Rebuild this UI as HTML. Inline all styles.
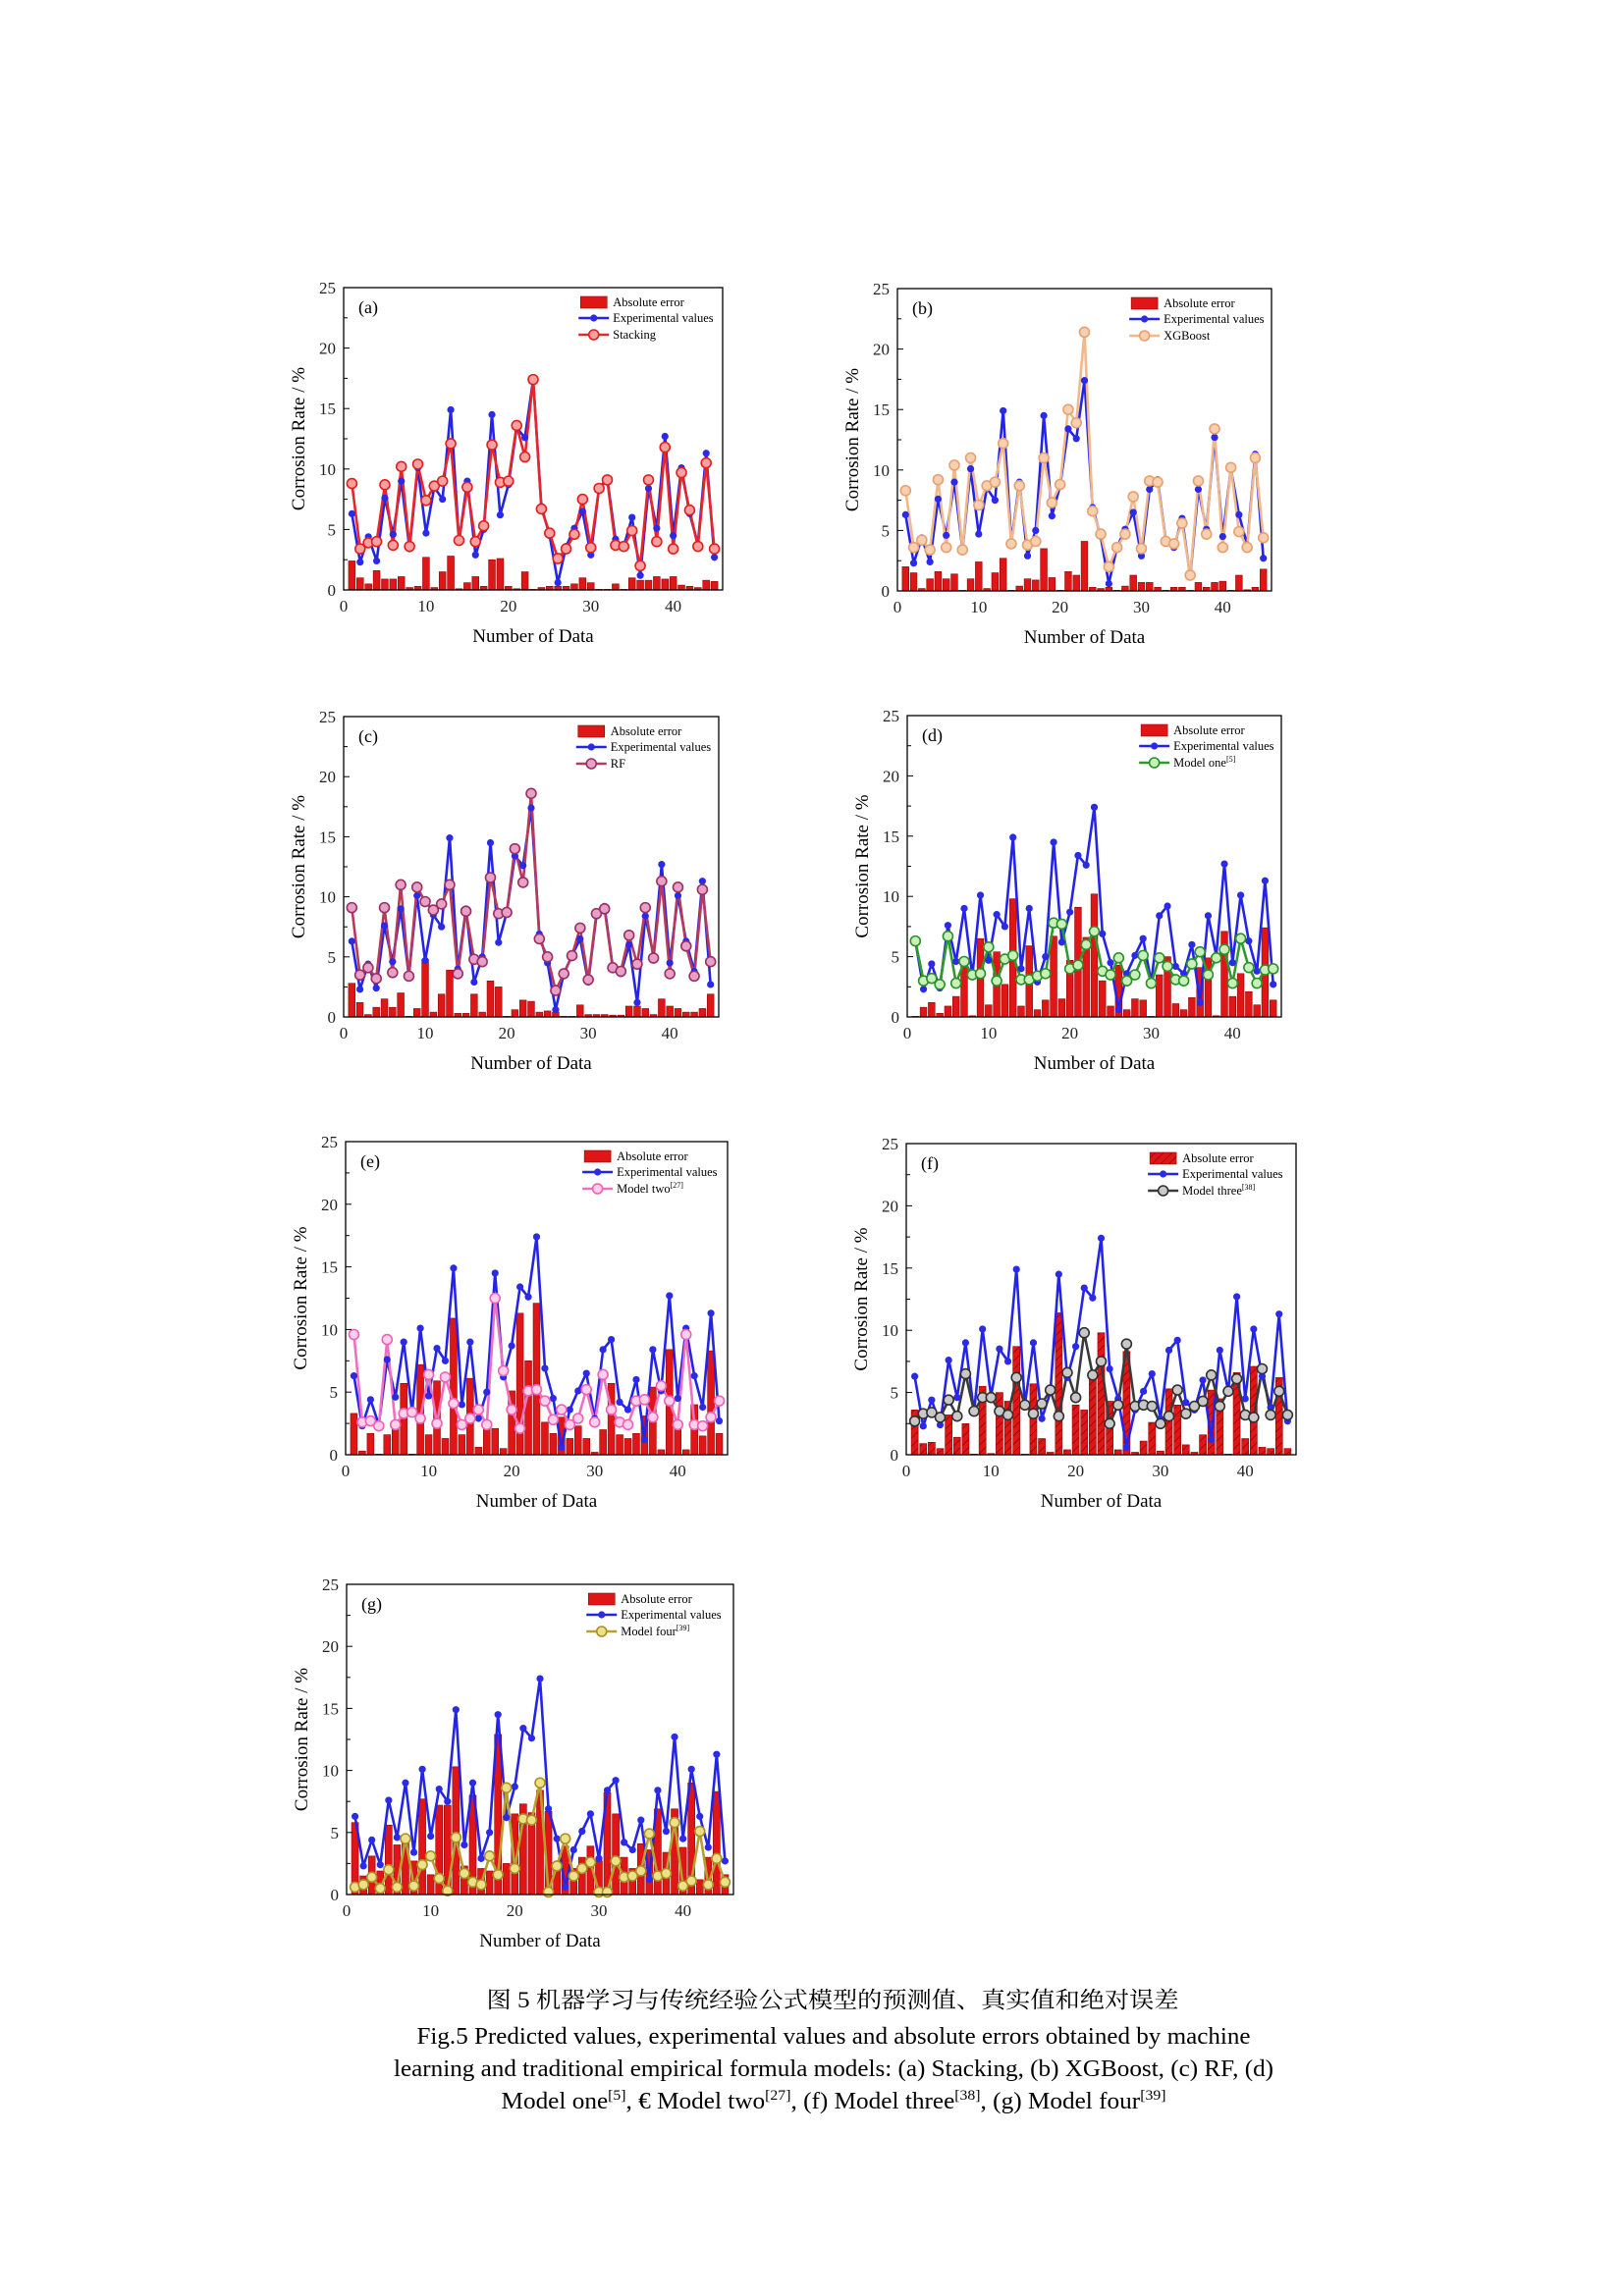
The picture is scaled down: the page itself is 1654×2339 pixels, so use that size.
<!DOCTYPE html>
<html><head><meta charset="utf-8">
<style>
html,body{margin:0;padding:0;background:#fff;}
svg{display:block;}
text{font-family:"Liberation Serif","Noto Serif CJK SC",serif;}
</style></head>
<body>
<svg id="fig" xmlns="http://www.w3.org/2000/svg" width="1654" height="2339" viewBox="0 0 1654 2339">
<rect x="0" y="0" width="1654" height="2339" fill="#fff"/>
<defs>
<pattern id="hatch" patternUnits="userSpaceOnUse" width="6" height="6" patternTransform="rotate(45)">
<rect width="6" height="6" fill="#e01515"/>
<line x1="0" y1="0" x2="0" y2="6" stroke="#7a0000" stroke-width="1.2"/>
</pattern>
</defs>
<g id="panels"></g>
<g>
<text x="848" y="2045" text-anchor="middle" font-size="23" textLength="705" lengthAdjust="spacingAndGlyphs" font-family="Liberation Serif, Noto Serif CJK SC, serif">图 5  机器学习与传统经验公式模型的预测值、真实值和绝对误差</text>
<text x="849" y="2082" text-anchor="middle" font-size="24" textLength="849" lengthAdjust="spacingAndGlyphs">Fig.5 Predicted values, experimental values and absolute errors obtained by machine</text>
<text x="849" y="2115" text-anchor="middle" font-size="24" textLength="896" lengthAdjust="spacingAndGlyphs">learning and traditional empirical formula models: (a) Stacking, (b) XGBoost, (c) RF, (d)</text>
<text x="849" y="2148" text-anchor="middle" font-size="24" textLength="677" lengthAdjust="spacingAndGlyphs">Model one<tspan font-size="15" dy="-9">[5]</tspan><tspan dy="9">, € Model two</tspan><tspan font-size="15" dy="-9">[27]</tspan><tspan dy="9">, (f) Model three</tspan><tspan font-size="15" dy="-9">[38]</tspan><tspan dy="9">, (g) Model four</tspan><tspan font-size="15" dy="-9">[39]</tspan></text>
</g>
</svg>
<script>
// ---- data ----
const categories = [1,2,3,4,5,6,7,8,9,10,11,12,13,14,15,16,17,18,19,20,21,22,23,24,25,26,27,28,29,30,31,32,33,34,35,36,37,38,39,40,41,42,43,44,45];
const xTicks = [0,10,20,30,40];
const yTicks = [0,5,10,15,20,25];
const experimental = [6.3,2.3,4.4,2.4,7.6,4.6,9.0,3.4,10.1,4.7,8.5,7.5,14.9,4.0,9.0,2.9,5.0,14.5,6.2,8.7,13.4,12.6,17.4,6.9,4.5,0.6,3.6,5.1,6.5,2.9,8.4,9.2,4.2,3.6,6.0,1.2,8.4,5.1,12.7,4.5,10.1,6.3,3.8,11.3,2.7];
const stacking = [8.8,3.4,3.9,4.0,8.7,3.7,10.2,3.6,10.4,7.4,8.6,9.0,12.1,4.1,8.5,4.0,5.3,12.0,8.9,9.0,13.6,11.0,17.4,6.7,4.7,2.6,3.4,4.6,7.5,3.5,8.4,9.1,3.7,3.6,4.9,2.0,9.1,4.0,11.8,3.4,9.7,6.6,3.6,10.5,3.4];
const stackingErr = [2.4,1.0,0.5,1.6,0.9,0.9,1.1,0.2,0.3,2.7,0.2,1.5,2.8,0.1,0.6,1.1,0.3,2.5,2.6,0.3,0.1,1.5,0.05,0.2,0.3,0.3,0.3,0.5,1.0,0.6,0.05,0.05,0.5,0.05,1.0,0.8,0.8,1.1,0.9,1.1,0.4,0.3,0.2,0.8,0.7];
const xgboost = [8.3,3.6,4.2,3.4,9.2,3.6,10.4,3.4,11.0,7.1,8.7,9.0,12.2,3.9,8.7,3.8,4.1,11.0,7.3,8.8,15.0,13.9,21.4,6.6,4.7,2.0,3.6,4.7,7.8,3.5,9.1,9.0,4.1,3.9,5.6,1.3,9.1,4.7,13.4,3.6,10.2,4.9,3.6,11.0,4.4];
const xgboostErr = [2.0,1.5,0.2,1.0,1.6,1.0,1.4,0.05,1.0,2.4,0.2,1.5,2.7,0.05,0.4,1.0,0.9,3.5,1.1,0.05,1.6,1.3,4.1,0.3,0.2,0.3,0.05,0.4,1.3,0.7,0.7,0.3,0.05,0.3,0.3,0.05,0.7,0.3,0.7,0.8,0.05,1.3,0.1,0.3,1.8];
const rf = [9.1,3.5,4.1,3.2,9.1,3.7,11.0,3.4,10.8,9.6,8.9,9.4,11.0,3.6,8.8,4.8,4.6,11.6,8.6,8.7,14.0,11.2,18.6,6.5,5.0,2.2,3.6,5.1,7.4,3.1,8.6,9.0,4.1,3.8,6.8,4.4,9.1,4.9,11.3,3.6,10.8,5.9,3.4,10.6,4.6];
const rfErr = [2.8,1.2,0.2,0.8,1.5,0.8,2.0,0.05,0.7,4.8,0.4,1.9,3.9,0.3,0.3,1.9,0.4,3.0,2.5,0.05,0.6,1.4,1.3,0.4,0.5,0.4,0.05,0.05,1.0,0.2,0.2,0.2,0.15,0.15,0.9,0.9,0.7,0.2,1.5,0.9,0.7,0.4,0.4,0.7,1.9];
const modelOne = [6.3,3.0,3.2,2.7,6.7,2.8,4.6,3.5,3.6,5.8,3.0,4.8,5.1,3.1,3.1,3.4,3.6,7.8,7.7,4.0,4.3,6.0,7.1,3.8,3.5,4.9,3.0,3.5,5.1,2.8,4.9,4.2,3.1,3.0,4.4,5.4,3.5,4.9,5.6,2.8,6.5,4.1,2.8,3.9,4.0];
const modelOneErr = [0.05,0.8,1.2,0.3,0.9,1.7,4.4,0.1,6.5,1.0,5.4,2.7,9.8,0.9,5.9,0.6,1.4,6.7,1.5,4.7,9.1,6.6,10.2,3.0,0.9,4.3,0.6,1.5,1.4,0.05,3.5,5.0,1.1,0.6,1.6,4.1,4.9,0.1,7.1,1.7,3.6,2.1,1.0,7.4,1.4];
const modelTwo = [9.6,2.6,2.7,2.3,9.2,2.4,3.3,3.4,2.9,6.4,2.5,6.2,4.1,2.4,2.9,3.6,2.4,12.5,6.7,3.6,2.1,5.1,5.2,4.3,2.8,3.6,2.4,2.9,5.2,2.6,6.4,3.6,2.6,2.4,4.3,4.4,3.0,5.5,4.3,2.4,9.6,2.4,2.3,3.0,4.3];
const modelTwoErr = [3.3,0.3,1.7,0.05,1.6,2.2,5.7,0.05,7.2,1.6,5.9,1.3,10.9,1.6,6.1,0.6,2.6,2.1,0.5,5.1,11.3,7.5,12.1,2.6,1.7,3.0,1.3,2.3,1.3,0.2,2.0,5.7,1.6,1.3,1.7,3.1,5.4,0.4,8.4,2.1,0.4,4.0,1.5,8.3,1.7];
const modelThree = [2.7,3.3,3.4,3.0,4.4,3.1,6.5,3.5,4.6,4.6,3.5,3.2,6.2,4.0,3.3,4.1,5.2,3.1,6.6,4.6,9.8,6.4,7.5,2.5,4.0,8.9,3.9,4.0,3.9,2.5,3.1,5.2,3.3,3.9,4.3,6.4,3.9,5.1,6.1,3.2,3.0,6.9,3.2,5.1,3.2];
const modelThreeErr = [3.6,0.9,1.0,0.5,3.2,1.4,2.5,0.05,5.5,0.1,5.0,4.3,8.7,0.05,5.7,1.3,0.2,11.4,0.4,4.0,3.6,6.2,9.8,4.3,0.4,8.3,0.2,1.1,2.6,0.3,5.3,4.0,0.8,0.2,1.6,5.2,4.5,0.05,6.6,1.3,7.1,0.6,0.5,6.2,0.5];
const modelFour = [0.6,0.8,1.4,0.5,2.0,0.6,4.5,0.7,2.4,3.1,1.3,0.3,4.6,1.7,1.0,0.8,3.1,1.6,8.6,2.1,6.1,6.0,9.0,0.2,2.3,4.5,1.5,2.1,2.6,0.2,0.2,2.7,1.4,1.5,1.9,4.9,1.5,1.7,5.8,0.7,1.1,5.1,0.8,2.9,1.0];
const modelFourErr = [5.8,1.5,3.1,1.9,5.6,4.0,4.5,2.7,7.7,1.6,7.2,7.2,10.3,2.3,8.0,2.1,1.9,12.9,2.5,6.5,7.3,6.6,8.4,6.7,2.2,3.9,2.1,3.0,3.9,2.7,8.2,6.5,3.0,2.1,4.1,3.6,6.9,3.4,6.9,3.8,9.0,1.2,3.0,8.3,1.6];

const NS = "http://www.w3.org/2000/svg";
function mk(tag, attrs, parent){
  const e = document.createElementNS(NS, tag);
  for (const k in attrs) e.setAttribute(k, attrs[k]);
  parent.appendChild(e);
  return e;
}

const panels = [
  {id:"a", box:[350,293,736,601], model:stacking, err:stackingErr, name:"Stacking", sup:"", line:"#e8262a", mfill:"#f7a0a0", mstroke:"#e02020", hatch:false},
  {id:"b", box:[914,294,1295,602], model:xgboost, err:xgboostErr, name:"XGBoost", sup:"", line:"#f2b88a", mfill:"#f7d0b0", mstroke:"#e8a070", hatch:false},
  {id:"c", box:[350,730,732,1036], model:rf, err:rfErr, name:"RF", sup:"", line:"#b83a5a", mfill:"#e7a0c8", mstroke:"#9a3060", hatch:false},
  {id:"d", box:[924,729,1305,1036], model:modelOne, err:modelOneErr, name:"Model one", sup:"[5]", line:"#2e9a2e", mfill:"#c8f0b8", mstroke:"#2a902a", hatch:false},
  {id:"e", box:[352,1163,741,1482], model:modelTwo, err:modelTwoErr, name:"Model two", sup:"[27]", line:"#f070c0", mfill:"#fbd0ea", mstroke:"#f060b8", hatch:false},
  {id:"f", box:[923,1165,1320,1482], model:modelThree, err:modelThreeErr, name:"Model three", sup:"[38]", line:"#3a3a3a", mfill:"#c8c8c8", mstroke:"#303030", hatch:true},
  {id:"g", box:[353,1614,747,1930], model:modelFour, err:modelFourErr, name:"Model four", sup:"[39]", line:"#b8a030", mfill:"#ece08a", mstroke:"#a89020", hatch:false}
];

const root = document.getElementById("panels");
panels.forEach(p => {
  const [L,T,R,B] = p.box;
  const W = R-L, H = B-T;
  const xs = v => L + v/46*W;
  const ys = v => B - v/25*H;
  const g = mk("g", {}, root);
  
  

  // bars
  const bars = mk("g", {}, g);
  
  
  const bw = 0.82*W/46;
  categories.forEach((c,i) => {
    const v = p.err[i];
    const r = mk("rect", {x:xs(c)-bw/2, y:ys(v), width:bw, height:Math.max(0,ys(0)-ys(v)), fill:p.hatch?"url(#hatch)":"#e01515", stroke:"#8a0a0a", "stroke-width":0.6}, bars);
    
    
  });

  // experimental line
  const expPts = categories.map((c,i)=>xs(c).toFixed(1)+","+ys(experimental[i]).toFixed(1)).join(" ");
  const el1 = mk("polyline", {points:expPts, fill:"none", stroke:"#2424e6", "stroke-width":2.6, "stroke-linejoin":"round"}, g);
  
  
  // model line
  const mPts = categories.map((c,i)=>xs(c).toFixed(1)+","+ys(p.model[i]).toFixed(1)).join(" ");
  const ml = mk("polyline", {points:mPts, fill:"none", stroke:p.line, "stroke-width":2.6, "stroke-linejoin":"round"}, g);
  
  
  categories.forEach((c,i) => {
    const m = mk("circle", {cx:xs(c), cy:ys(experimental[i]), r:3.6, fill:"#2a2ae8"}, g);
    
    
  });
  categories.forEach((c,i) => {
    const m = mk("circle", {cx:xs(c), cy:ys(p.model[i]), r:5, fill:p.mfill, stroke:p.mstroke, "stroke-width":1.6}, g);
    
    
  });

  // frame
  const fr = mk("rect", {x:L, y:T, width:W, height:H, fill:"none", stroke:"#000", "stroke-width":1.3}, g);
  
  

  // y ticks
  for (let v=0; v<=25; v+=2.5){
    const major = (v%5===0);
    const t = mk("line", {x1:L, x2:L+(major?6:4), y1:ys(v), y2:ys(v), stroke:"#000", "stroke-width":1}, g);
    
    
  }
  yTicks.forEach(v => {
    const t = mk("text", {x:L-8, y:ys(v)+6, "text-anchor":"end", "font-size":17, fill:"#222"}, g);
    t.textContent = v;
    
    
  });
  xTicks.forEach(v => {
    const t = mk("text", {x:xs(v), y:B+22, "text-anchor":"middle", "font-size":17, fill:"#222"}, g);
    t.textContent = v;
    
    
  });
  const xt = mk("text", {x:L+W/2, y:B+53, "text-anchor":"middle", "font-size":19}, g);
  xt.textContent = "Number of Data";
  
  
  const yx = L-40, yy = T+H/2;
  const yt = mk("text", {x:yx, y:yy, "text-anchor":"middle", "font-size":19, transform:"rotate(-90 "+yx+" "+yy+")"}, g);
  yt.textContent = "Corrosion Rate / %";
  
  

  const pl = mk("text", {x:L+15, y:T+26, "font-size":18}, g);
  pl.textContent = "(" + p.id + ")";
  
  

  // legend
  const lg = mk("g", {}, g);
  
  
  const sx = L + 0.625*W, tx = sx + 33;
  const r1 = T+15, r2 = T+31, r3 = T+48;
  const sw = mk("rect", {x:sx, y:r1-6, width:27, height:12, fill:p.hatch?"url(#hatch)":"#e01515", stroke:"#8a0a0a", "stroke-width":0.6}, lg);
  
  
  const t1 = mk("text", {x:tx, y:r1+4, "font-size":12.5}, lg);
  t1.textContent = "Absolute error";
  
  
  const l2 = mk("line", {x1:sx-2, x2:sx+29, y1:r2, y2:r2, stroke:"#2424e6", "stroke-width":2.6}, lg);
  
  
  const c2 = mk("circle", {cx:sx+13.5, cy:r2, r:3.6, fill:"#2a2ae8"}, lg);
  
  
  const t2 = mk("text", {x:tx, y:r2+4, "font-size":12.5}, lg);
  t2.textContent = "Experimental values";
  
  
  const l3 = mk("line", {x1:sx-2, x2:sx+29, y1:r3, y2:r3, stroke:p.line, "stroke-width":2.6}, lg);
  
  
  const c3 = mk("circle", {cx:sx+13.5, cy:r3, r:5, fill:p.mfill, stroke:p.mstroke, "stroke-width":1.6}, lg);
  
  
  const t3 = mk("text", {x:tx, y:r3+4, "font-size":12.5}, lg);
  t3.textContent = p.name;
  if (p.sup){
    const ts = mk("tspan", {"font-size":8, dy:-5}, t3);
    ts.textContent = p.sup;
  }
  
  
});
</script>
</body></html>
